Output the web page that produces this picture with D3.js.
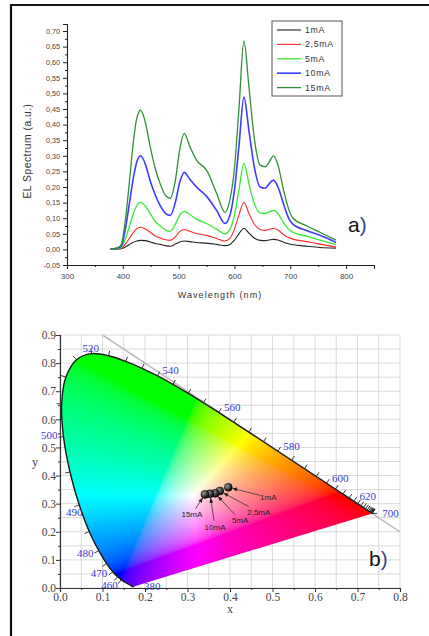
<!DOCTYPE html>
<html>
<head>
<meta charset="UTF-8">
<title>EL spectra and CIE coordinates</title>
<script src="https://cdnjs.cloudflare.com/ajax/libs/d3/7.8.5/d3.min.js"></script>
<style>
    body {margin:0; background:#fff;}
    svg {display:block; font-family:"Liberation Sans", Arial, sans-serif;}
    .serif text, text.serif {font-family:"Liberation Serif", "Times New Roman", serif;}
</style>
</head>
<body>
<div id="chart"></div>
<script>

    // ---- a) EL spectra
    var wavelengths = [378,390,397,405,412,418,425,432,440,449,458,467,477,485,494,502,510,520,532,550,
                       568,583,592,600,608,617,626,636,646,655,662,670,678,688,697,705,730,753,782];
    var el1mA  = [0,0.001,0.002,0.008,0.016,0.022,0.027,0.029,0.028,0.024,0.019,0.016,0.012,0.01,0.017,0.024,0.027,0.025,0.022,0.02,
                  0.016,0.012,0.016,0.03,0.05,0.068,0.052,0.036,0.029,0.028,0.03,0.032,0.03,0.023,0.018,0.015,0.01,0.006,0.004];
    var el2_5mA = [0,0.001,0.003,0.018,0.036,0.052,0.066,0.071,0.066,0.055,0.043,0.036,0.031,0.029,0.04,0.057,0.064,0.058,0.051,0.045,
                  0.035,0.027,0.036,0.065,0.11,0.151,0.115,0.08,0.064,0.061,0.064,0.067,0.062,0.048,0.038,0.033,0.025,0.017,0.008];
    var el5mA  = [0.001,0.002,0.006,0.035,0.075,0.11,0.14,0.151,0.14,0.115,0.09,0.075,0.062,0.058,0.08,0.11,0.122,0.112,0.097,0.083,
                  0.065,0.05,0.065,0.11,0.19,0.276,0.21,0.145,0.117,0.115,0.12,0.125,0.115,0.085,0.065,0.055,0.042,0.03,0.015];
    var el10mA = [0.001,0.004,0.01,0.07,0.15,0.22,0.28,0.300,0.275,0.22,0.175,0.14,0.115,0.109,0.15,0.215,0.247,0.225,0.20,0.17,
                  0.125,0.083,0.11,0.19,0.33,0.488,0.38,0.26,0.20,0.196,0.21,0.222,0.20,0.145,0.10,0.08,0.06,0.045,0.022];
    var el15mA = [0.002,0.005,0.015,0.10,0.22,0.33,0.42,0.446,0.41,0.33,0.26,0.21,0.172,0.164,0.22,0.32,0.372,0.33,0.286,0.254,
                  0.18,0.119,0.16,0.26,0.45,0.668,0.52,0.35,0.27,0.265,0.28,0.30,0.27,0.19,0.13,0.10,0.075,0.055,0.03];
    var seriesNames = ["1mA", "2,5mA", "5mA", "10mA", "15mA"];
    var seriesColors = ["#222222", "#ff2b2b", "#33e833", "#3d3dff", "#2f8f37"];

    // ---- b) CIE 1931 spectral locus and measured points
    var locusWl = d3.range(380, 701, 5);
    var locusX = [0.1741,0.1740,0.1738,0.1736,0.1733,0.1730,0.1726,0.1721,0.1714,
                  0.1703,0.1689,0.1669,0.1644,0.1611,0.1566,0.1510,0.1440,0.1355,0.1241,
                  0.1096,0.0913,0.0687,0.0454,0.0235,0.0082,0.0039,0.0139,0.0389,0.0743,
                  0.1142,0.1547,0.1929,0.2296,0.2658,0.3016,0.3373,0.3731,0.4087,0.4441,
                  0.4788,0.5125,0.5448,0.5752,0.6029,0.6270,0.6482,0.6658,0.6801,0.6915,
                  0.7006,0.7079,0.7140,0.7190,0.7230,0.7260,0.7283,0.7300,0.7311,0.7320,
                  0.7327,0.7334,0.7340,0.7344,0.7346,0.7347];
    var locusY = [0.0050,0.0050,0.0049,0.0049,0.0048,0.0048,0.0048,0.0048,0.0051,
                  0.0058,0.0069,0.0086,0.0109,0.0138,0.0177,0.0227,0.0297,0.0399,0.0578,
                  0.0868,0.1327,0.2007,0.2950,0.4127,0.5384,0.6548,0.7502,0.8120,0.8338,
                  0.8262,0.8059,0.7816,0.7543,0.7243,0.6923,0.6589,0.6245,0.5896,0.5547,
                  0.5202,0.4866,0.4544,0.4242,0.3965,0.3725,0.3514,0.3340,0.3197,0.3083,
                  0.2993,0.2920,0.2859,0.2809,0.2770,0.2740,0.2717,0.2700,0.2689,0.2680,
                  0.2673,0.2666,0.2660,0.2656,0.2654,0.2653];
    var locusLabels = [380,460,470,480,490,500,520,540,560,580,600,620,700];
    var pointNames = ["1mA", "2,5mA", "5mA", "10mA", "15mA"];
    var pointX = [0.396, 0.376, 0.365, 0.353, 0.341];
    var pointY = [0.358, 0.345, 0.337, 0.335, 0.333];

    var W = 429, H = 636;
    var svg = d3.select("#chart").append("svg").attr("width", W).attr("height", H);
    var defs = svg.append("defs");

    // outer frame (open at right and bottom, as cropped)
    svg.append("path").attr("d", "M11,636V5H429")
        .attr("fill", "none").attr("stroke", "#111").attr("stroke-width", 2.2);

    // ================= a) =================
    var x = d3.scaleLinear().domain([300, 850]).range([67, 374]);
    var y = d3.scaleLinear().domain([-0.05, 0.7225]).range([265, 24]);
    var comma = d3.formatLocale({decimal: ",", thousands: ".", grouping: [3], currency: ["", ""], minus: "-"});

    var gA = svg.append("g");

    var yAxis = gA.append("g").attr("transform", "translate(67,0)")
        .call(d3.axisLeft(y).tickValues(d3.range(-0.05, 0.7001, 0.05)).tickSize(4).tickPadding(3)
            .tickFormat(comma.format(".2f")));
    gA.append("g").attr("transform", "translate(67,0)")
        .call(d3.axisLeft(y).tickValues(d3.range(-0.025, 0.72, 0.05)).tickSize(2).tickFormat(""))
        .select(".domain").remove();
    var xAxis = gA.append("g").attr("transform", "translate(0,265)")
        .call(d3.axisBottom(x).tickValues([300,400,500,600,700,800]).tickSize(4).tickPadding(4));
    gA.append("g").attr("transform", "translate(0,265)")
        .call(d3.axisBottom(x).tickValues([350,450,550,650,750,850]).tickSize(2).tickFormat(""))
        .select(".domain").remove();
    gA.selectAll(".domain").attr("stroke", "#222").attr("stroke-width", 1.1);
    gA.selectAll(".tick line").attr("stroke", "#222");
    yAxis.selectAll("text").attr("font-size", 7.2).attr("fill", "#444");
    xAxis.selectAll("text").attr("font-size", 8).attr("fill", "#444");

    gA.append("text").attr("transform", "translate(31,151) rotate(-90)")
        .attr("text-anchor", "middle").attr("font-size", 10.3).attr("fill", "#333")
        .attr("letter-spacing", 0.5).text("EL Spectrum (a.u.)");
    gA.append("text").attr("x", 220).attr("y", 298)
        .attr("text-anchor", "middle").attr("font-size", 9).attr("fill", "#333")
        .attr("letter-spacing", 1.1).text("Wavelength (nm)");

    var series = [el1mA, el2_5mA, el5mA, el10mA, el15mA];
    var widths = [1.1, 1.1, 1.3, 1.6, 1.3];
    var line = d3.line()
        .x(function(d, i) { return x(wavelengths[i]); })
        .y(function(d) { return y(d); })
        .curve(d3.curveMonotoneX);
    gA.selectAll(".spec").data(series).enter().append("path")
        .attr("class", "spec")
        .attr("d", line)
        .attr("fill", "none")
        .attr("stroke", function(d, i) { return seriesColors[i]; })
        .attr("stroke-width", function(d, i) { return widths[i]; })
        .attr("stroke-linejoin", "round");

    // legend
    var leg = gA.append("g").attr("transform", "translate(272,21)");
    leg.append("rect").attr("width", 70).attr("height", 75)
        .attr("fill", "#fff").attr("stroke", "#555").attr("stroke-width", 1);
    var items = leg.selectAll(".item").data(seriesNames).enter().append("g")
        .attr("transform", function(d, i) { return "translate(0," + (9 + i * 14.4) + ")"; });
    items.append("line").attr("x1", 5).attr("x2", 29)
        .attr("stroke", function(d, i) { return seriesColors[i]; })
        .attr("stroke-width", function(d, i) { return widths[i]; });
    items.append("text").attr("x", 33).attr("dy", "0.35em")
        .attr("font-size", 8.8).attr("fill", "#333").attr("letter-spacing", 0.7)
        .text(function(d) { return d; });

    var labA = gA.append("text").attr("x", 348).attr("y", 232).attr("font-size", 21).attr("fill", "#111");
    labA.append("tspan").text("a");
    labA.append("tspan").attr("fill", "#34478f").text(")");

    // ================= b) =================
    var cx = d3.scaleLinear().domain([0, 0.8]).range([60, 400]);
    var cy = d3.scaleLinear().domain([0, 0.9]).range([588, 335]);
    var gB = svg.append("g");

    // grid
    gB.selectAll(".vg").data(d3.range(0, 0.8001, 0.05)).enter().append("line")
        .attr("x1", function(d) { return cx(d); }).attr("x2", function(d) { return cx(d); })
        .attr("y1", cy(0)).attr("y2", cy(0.9))
        .attr("stroke", "#dadada").attr("stroke-width", 1);
    gB.selectAll(".hg").data(d3.range(0, 0.9001, 0.05)).enter().append("line")
        .attr("y1", function(d) { return cy(d); }).attr("y2", function(d) { return cy(d); })
        .attr("x1", cx(0)).attr("x2", cx(0.8))
        .attr("stroke", "#dadada").attr("stroke-width", 1);

    // x + y = 1
    gB.append("line").attr("x1", cx(0.1)).attr("y1", cy(0.9)).attr("x2", cx(0.8)).attr("y2", cy(0.2))
        .attr("stroke", "#bdbdbd").attr("stroke-width", 1.5);

    // colour fill of the horseshoe
    function xyToRgb(xv, yv) {
        var X = xv / yv, Y = 1, Z = (1 - xv - yv) / yv;
        var r = 3.2406 * X - 1.5372 * Y - 0.4986 * Z,
            g = -0.9689 * X + 1.8758 * Y + 0.0415 * Z,
            b = 0.0557 * X - 0.2040 * Y + 1.0570 * Z;
        r = Math.max(r, 0); g = Math.max(g, 0); b = Math.max(b, 0);
        var m = Math.max(r, g, b) || 1;
        return [r, g, b].map(function(c) {
            c = c / m;
            c = c <= 0.0031308 ? 12.92 * c : 1.055 * Math.pow(c, 1 / 2.4) - 0.055;
            return Math.round(255 * c);
        });
    }
    var canvas = document.createElement("canvas");
    canvas.width = W; canvas.height = H;
    var ctx = canvas.getContext("2d");
    var img = ctx.createImageData(W, H);
    for (var py = 330; py < 592; py++) {
        for (var px = 56; px < 382; px++) {
            var xv = cx.invert(px + 0.5), yv = cy.invert(py + 0.5);
            if (yv < 0.002) yv = 0.002;
            var c = xyToRgb(xv, yv), k = (py * W + px) * 4;
            img.data[k] = c[0]; img.data[k + 1] = c[1]; img.data[k + 2] = c[2]; img.data[k + 3] = 255;
        }
    }
    ctx.putImageData(img, 0, 0);

    var locusPts = locusWl.map(function(w, i) { return [cx(locusX[i]), cy(locusY[i])]; });
    var locusLine = d3.line().curve(d3.curveCatmullRom);
    defs.append("clipPath").attr("id", "locusClip").append("path")
        .attr("d", locusLine(locusPts) + "Z");
    gB.append("image").attr("href", canvas.toDataURL()).attr("x", 0).attr("y", 0)
        .attr("width", W).attr("height", H).attr("clip-path", "url(#locusClip)");
    gB.append("path").attr("d", locusLine(locusPts))
        .attr("fill", "none").attr("stroke", "#1a1a1a").attr("stroke-width", 1.4);

    // outward normal of the locus at each wavelength
    function normalAt(i) {
        if (i === 0 || i === locusPts.length - 1) return [1, 0];
        var a = locusPts[i - 1], b = locusPts[i + 1];
        var dx = b[0] - a[0], dy = b[1] - a[1], l = Math.hypot(dx, dy);
        return [dy / l, -dx / l];
    }
    var tickIdx = locusWl.map(function(w, i) { return i; }).filter(function(i) { return locusWl[i] >= 460; });
    gB.selectAll(".lt").data(tickIdx).enter().append("line")
        .attr("x1", function(i) { return locusPts[i][0]; })
        .attr("y1", function(i) { return locusPts[i][1]; })
        .attr("x2", function(i) { return locusPts[i][0] + normalAt(i)[0] * 5; })
        .attr("y2", function(i) { return locusPts[i][1] + normalAt(i)[1] * 5; })
        .attr("stroke", "#222").attr("stroke-width", 0.9);

    // a few labels sit closer to the curve than the others
    var labelNudge = {490: [9, 5], 500: [0, -2], 470: [-1, -2.5], 460: [0, 1]};
    gB.selectAll(".ll").data(locusLabels).enter().append("text")
        .attr("class", "serif")
        .each(function(w) {
            var i = locusWl.indexOf(w), n = normalAt(i), p = locusPts[i];
            var nd = labelNudge[w] || [0, 0];
            var hx = n[0] < 0 ? 6 : 10;
            d3.select(this)
                .attr("x", p[0] + n[0] * hx + nd[0])
                .attr("y", p[1] + n[1] * 6 + nd[1])
                .attr("text-anchor", n[0] > 0.3 ? "start" : (n[0] < -0.3 ? "end" : "middle"));
        })
        .attr("dy", "0.35em").attr("font-size", 11).attr("fill", "#3838d8")
        .text(function(d) { return d; });

    // axes
    var cyAxis = gB.append("g").attr("class", "serif").attr("transform", "translate(60,0)")
        .call(d3.axisLeft(cy).tickValues(d3.range(0, 0.9001, 0.1)).tickSize(4).tickPadding(0).tickFormat(d3.format(".1f")));
    gB.append("g").attr("transform", "translate(60,0)")
        .call(d3.axisLeft(cy).tickValues(d3.range(0.05, 0.9, 0.1)).tickSize(2).tickFormat(""))
        .select(".domain").remove();
    var cxAxis = gB.append("g").attr("class", "serif").attr("transform", "translate(0,588)")
        .call(d3.axisBottom(cx).tickValues(d3.range(0, 0.8001, 0.1)).tickSize(4).tickPadding(1).tickFormat(d3.format(".1f")));
    gB.append("g").attr("transform", "translate(0,588)")
        .call(d3.axisBottom(cx).tickValues(d3.range(0.05, 0.8, 0.1)).tickSize(2).tickFormat(""))
        .select(".domain").remove();
    gB.selectAll(".domain").attr("stroke", "#333").attr("stroke-width", 1.2);
    gB.selectAll(".tick line").attr("stroke", "#333");
    cyAxis.selectAll("text").attr("font-size", 11.5).attr("fill", "#444");
    cxAxis.selectAll("text").attr("font-size", 11.5).attr("fill", "#444");
    gB.append("text").attr("class", "serif").attr("x", 230).attr("y", 613)
        .attr("text-anchor", "middle").attr("font-size", 12).attr("fill", "#444").text("x");
    gB.append("text").attr("class", "serif").attr("x", 35).attr("y", 466)
        .attr("text-anchor", "middle").attr("font-size", 12).attr("fill", "#444").text("y");

    // measured points
    var grad = defs.append("radialGradient").attr("id", "ball").attr("cx", "35%").attr("cy", "35%").attr("r", "65%");
    grad.append("stop").attr("offset", "0%").attr("stop-color", "#9a9a9a");
    grad.append("stop").attr("offset", "100%").attr("stop-color", "#050505");
    defs.append("marker").attr("id", "arr").attr("viewBox", "0 0 10 10")
        .attr("refX", 9).attr("refY", 5).attr("markerUnits", "userSpaceOnUse")
        .attr("markerWidth", 5).attr("markerHeight", 5).attr("orient", "auto")
        .append("path").attr("d", "M0,1L10,5L0,9z").attr("fill", "#222");

    var annOffsets = [[40, 10], [39, 21], [25, 27], [5, 33], [-13, 20]];
    var r = 4;
    pointNames.forEach(function(name, i) {
        var p = [cx(pointX[i]), cy(pointY[i])];
        var c = [p[0] + annOffsets[i][0], p[1] + annOffsets[i][1]];
        var dx = p[0] - c[0], dy = p[1] - c[1], l = Math.hypot(dx, dy);
        dx /= l; dy /= l;
        var halfW = name.length * 2.3;
        var t = Math.min(Math.abs(dx) > 1e-6 ? halfW / Math.abs(dx) : 1e9, Math.abs(dy) > 1e-6 ? 5 / Math.abs(dy) : 1e9) + 1;
        gB.append("line")
            .attr("x1", c[0] + dx * t).attr("y1", c[1] + dy * t)
            .attr("x2", p[0] - dx * (r + 0.5)).attr("y2", p[1] - dy * (r + 0.5))
            .attr("stroke", "#333").attr("stroke-width", 0.8).attr("marker-end", "url(#arr)");
        gB.append("text").attr("x", c[0]).attr("y", c[1]).attr("dy", "0.35em")
            .attr("text-anchor", "middle").attr("font-size", 8).attr("fill", "#222").text(name);
    });
    gB.selectAll(".pt").data(pointNames).enter().append("circle")
        .attr("cx", function(d, i) { return cx(pointX[i]); })
        .attr("cy", function(d, i) { return cy(pointY[i]); })
        .attr("r", r).attr("fill", "url(#ball)").attr("stroke", "#000").attr("stroke-width", 0.5);

    var labB = gB.append("text").attr("x", 369).attr("y", 566).attr("font-size", 21).attr("fill", "#111");
    labB.append("tspan").text("b");
    labB.append("tspan").attr("fill", "#34478f").text(")");

</script>
</body>
</html>
